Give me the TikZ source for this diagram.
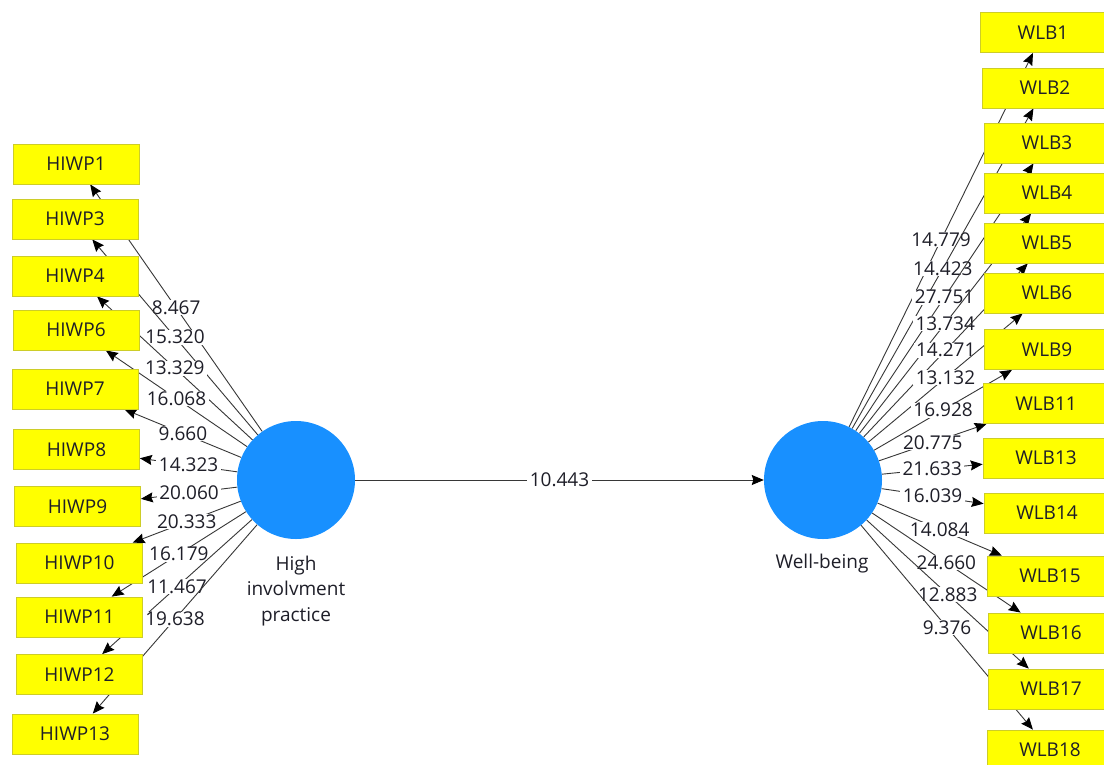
\documentclass[tikz,border=0pt]{standalone}
\usepackage{fontspec}
\setmainfont{Open Sans}
\usetikzlibrary{arrows.meta}
\pgfdeclarelayer{bglayer}
\pgfdeclarelayer{edgelayer}
\pgfsetlayers{bglayer,edgelayer,main}
\definecolor{lvblue}{RGB}{24,144,255}
\definecolor{mvfill}{RGB}{255,255,0}
\definecolor{mvborder}{RGB}{205,205,40}
\definecolor{edgecol}{RGB}{55,55,55}
\definecolor{txt}{RGB}{30,30,40}
\begin{document}
\begin{tikzpicture}[x=1pt,y=-1pt,
  font=\fontsize{19}{25.5}\selectfont,
  mv/.style={draw=mvborder, fill=mvfill, line width=0.8pt, minimum width=126pt, minimum height=40pt, inner sep=0pt, text=txt},
  lv/.style={circle, fill=lvblue, minimum size=118pt, inner sep=0pt},
  edgeline/.style={draw=edgecol, line width=0.9pt, -{Stealth[length=12pt,width=10pt,inset=1.5pt,color=black]}},
  wlabel/.style={midway, fill=white, inner xsep=2.5pt, inner ysep=0.5pt, text=txt},
  lvname/.style={align=center, text=txt}]
\clip (0,0) rectangle (1104,764);
\begin{pgfonlayer}{bglayer}
\fill[white] (0,0) rectangle (1104,764);
\end{pgfonlayer}
% latent variables
\node[lv] (hip) at (296,480) {};
\node[lv] (wb) at (823,480) {};
\node[lvname] (hipname) at (296,591) {High\\involvment\\practice};
\node[lvname] (wbname) at (822,564) {Well-being};
% left indicators
\node[mv] (h1) at (76,164) {HIWP1};
\node[mv] (h3) at (75,219) {HIWP3};
\node[mv] (h4) at (75,276) {HIWP4};
\node[mv] (h6) at (76,330) {HIWP6};
\node[mv] (h7) at (75,389) {HIWP7};
\node[mv] (h8) at (76.5,449.5) {HIWP8};
\node[mv] (h9) at (77.5,506.5) {HIWP9};
\node[mv] (h10) at (79.5,563) {HIWP10};
\node[mv] (h11) at (79.5,617) {HIWP11};
\node[mv] (h12) at (79.5,674.5) {HIWP12};
\node[mv] (h13) at (75,734) {HIWP13};
% right indicators
\node[mv] (w1) at (1043,32.5) {WLB1};
\node[mv] (w2) at (1045,88) {WLB2};
\node[mv] (w3) at (1047,143) {WLB3};
\node[mv] (w4) at (1047,193) {WLB4};
\node[mv] (w5) at (1047,243) {WLB5};
\node[mv] (w6) at (1047,293) {WLB6};
\node[mv] (w9) at (1047,349.5) {WLB9};
\node[mv] (w11) at (1046,403.5) {WLB11};
\node[mv] (w13) at (1046,458) {WLB13};
\node[mv] (w14) at (1047,513) {WLB14};
\node[mv] (w15) at (1050,576) {WLB15};
\node[mv] (w16) at (1051,633) {WLB16};
\node[mv] (w17) at (1051,689) {WLB17};
\node[mv] (w18) at (1050,750) {WLB18};
\begin{pgfonlayer}{edgelayer}
\foreach \t/\v in {h1/8.467, h3/15.320, h4/13.329, h6/16.068, h7/9.660, h8/14.323, h9/20.060, h10/20.333, h11/16.179, h12/11.467, h13/19.638}
  \draw[edgeline] (hip) -- (\t) node[wlabel] {\v};
\foreach \t/\v in {w1/14.779, w2/14.423, w3/27.751, w4/13.734, w5/14.271, w6/13.132, w9/16.928, w11/20.775, w13/21.633, w14/16.039, w15/14.084, w16/24.660, w17/12.883, w18/9.376}
  \draw[edgeline] (wb) -- (\t) node[wlabel] {\v};
\draw[edgeline] (hip) -- (wb) node[wlabel] {10.443};
\end{pgfonlayer}
\end{tikzpicture}
\end{document}
